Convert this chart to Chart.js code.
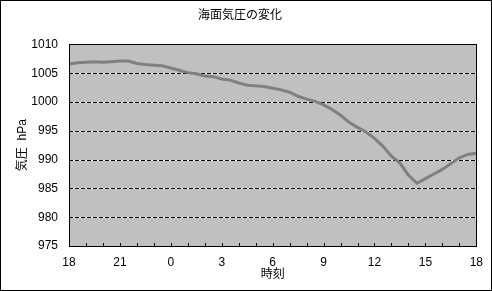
<!DOCTYPE html>
<html>
<head>
<meta charset="utf-8">
<script src="https://cdn.jsdelivr.net/npm/chart.js@4/dist/chart.umd.min.js"></script>
<style>
html,body{margin:0;padding:0;background:#fff;}
#wrap{width:492px;height:291px;}
</style>
</head>
<body>
<div id="wrap"><canvas id="c" width="492" height="291"></canvas></div>
<script>
// elapsed hours from 18:00
const hours = [0,0.5,1,1.5,2,2.5,3,3.5,4,4.5,5,5.5,6,6.5,7,7.5,8,8.5,9,9.5,10,10.5,11,11.5,12,12.5,13,13.5,14,14.5,15,15.5,16,16.5,17,17.5,18,18.5,19,19.5,20,20.5,21,21.5,22,22.5,23,23.5,24];
const pressure = [1006.6,1006.8,1006.9,1007.0,1006.9,1007.0,1007.1,1007.1,1006.7,1006.5,1006.4,1006.3,1005.9,1005.5,1005.1,1004.9,1004.5,1004.4,1004.0,1003.8,1003.3,1002.9,1002.8,1002.7,1002.4,1002.1,1001.7,1001.0,1000.5,1000.1,999.5,998.7,997.7,996.5,995.6,994.8,993.7,992.3,990.6,989.4,987.3,985.9,986.7,987.5,988.3,989.3,990.3,990.9,991.1];
const xTickLabels = ['18','21','0','3','6','9','12','15','18'];
const yTicks = [975,980,985,990,995,1000,1005,1010];
const titleText = '海面気圧の変化';
const xTitle = '時刻';
const yTitle = '気圧  hPa';

const FONT = "'Liberation Sans','Noto Sans CJK JP',sans-serif";

const deco = {
  id:'deco',
  beforeDraw(chart){
    const {ctx, chartArea:a} = chart;
    ctx.save();
    ctx.fillStyle='#fff';
    ctx.fillRect(0,0,chart.width,chart.height);
    ctx.fillStyle='#C0C0C0';
    ctx.fillRect(a.left,a.top,a.right-a.left,a.bottom-a.top);
    ctx.restore();
  },
  beforeDatasetsDraw(chart){
    const {ctx, chartArea:a, scales} = chart;
    const y = scales.y;
    ctx.save();
    ctx.lineWidth=1;
    yTicks.forEach(v=>{
      if(v===yTicks[0]||v===yTicks[yTicks.length-1]) return;
      const py = Math.round(y.getPixelForValue(v))+0.5;
      ctx.setLineDash([]);
      ctx.strokeStyle='#fff';
      ctx.beginPath();ctx.moveTo(a.left,py);ctx.lineTo(a.right,py);ctx.stroke();
      ctx.setLineDash([4,2]);
      ctx.strokeStyle='#000';
      ctx.beginPath();ctx.moveTo(a.left,py);ctx.lineTo(a.right,py);ctx.stroke();
    });
    ctx.restore();
  },
  afterDatasetsDraw(chart){
    const {ctx, chartArea:a, scales} = chart;
    const x = scales.x;
    ctx.save();
    ctx.strokeStyle='#000';
    ctx.lineWidth=1;
    for(let h=0;h<=24;h++){
      const px = Math.round(x.getPixelForValue(h))+0.5;
      ctx.beginPath();ctx.moveTo(px,a.bottom);ctx.lineTo(px,a.bottom-3);ctx.stroke();
    }
    ctx.strokeRect(Math.round(a.left)+0.5,Math.round(a.top)+0.5,Math.round(a.right-a.left),Math.round(a.bottom-a.top));
    ctx.strokeRect(0.5,0.5,chart.width-1,chart.height-1);
    ctx.restore();
  }
};

new Chart(document.getElementById('c'),{
  type:'line',
  data:{
    datasets:[{
      data: hours.map((h,i)=>({x:h,y:pressure[i]})),
      borderColor:'#808080',
      borderWidth:3,
      pointRadius:0,
      tension:0,
      fill:false
    }]
  },
  options:{
    responsive:false,
    animation:false,
    devicePixelRatio:1,
    layout:{padding:{left:0,right:12,top:0,bottom:0}},
    plugins:{
      legend:{display:false},
      tooltip:{enabled:false},
      title:{display:true,text:titleText,color:'#000',font:{family:FONT,size:12,weight:'normal'},padding:{top:8,bottom:22}}
    },
    scales:{
      x:{
        type:'linear',min:0,max:24,
        afterFit(s){s.height=45;},
        grid:{display:false,drawTicks:false},
        border:{display:false},
        ticks:{stepSize:3,padding:9,color:'#000',font:{family:FONT,size:12},maxRotation:0,autoSkip:false,
          callback:(v)=>{const i=Math.round(v/3);return (v%3===0)?xTickLabels[i]:'';}},
        title:{display:true,text:xTitle,color:'#000',font:{family:FONT,size:12},padding:{top:0,bottom:9}}
      },
      y:{
        min:975,max:1010,
        afterFit(s){s.width=69;},
        grid:{display:false,drawTicks:false},
        border:{display:false},
        ticks:{stepSize:5,padding:11,color:'#000',font:{family:FONT,size:12},callback:(v)=>String(v)},
        title:{display:true,text:yTitle,color:'#000',font:{family:FONT,size:12},padding:{top:15,bottom:0}}
      }
    }
  },
  plugins:[deco]
});
</script>
</body>
</html>
